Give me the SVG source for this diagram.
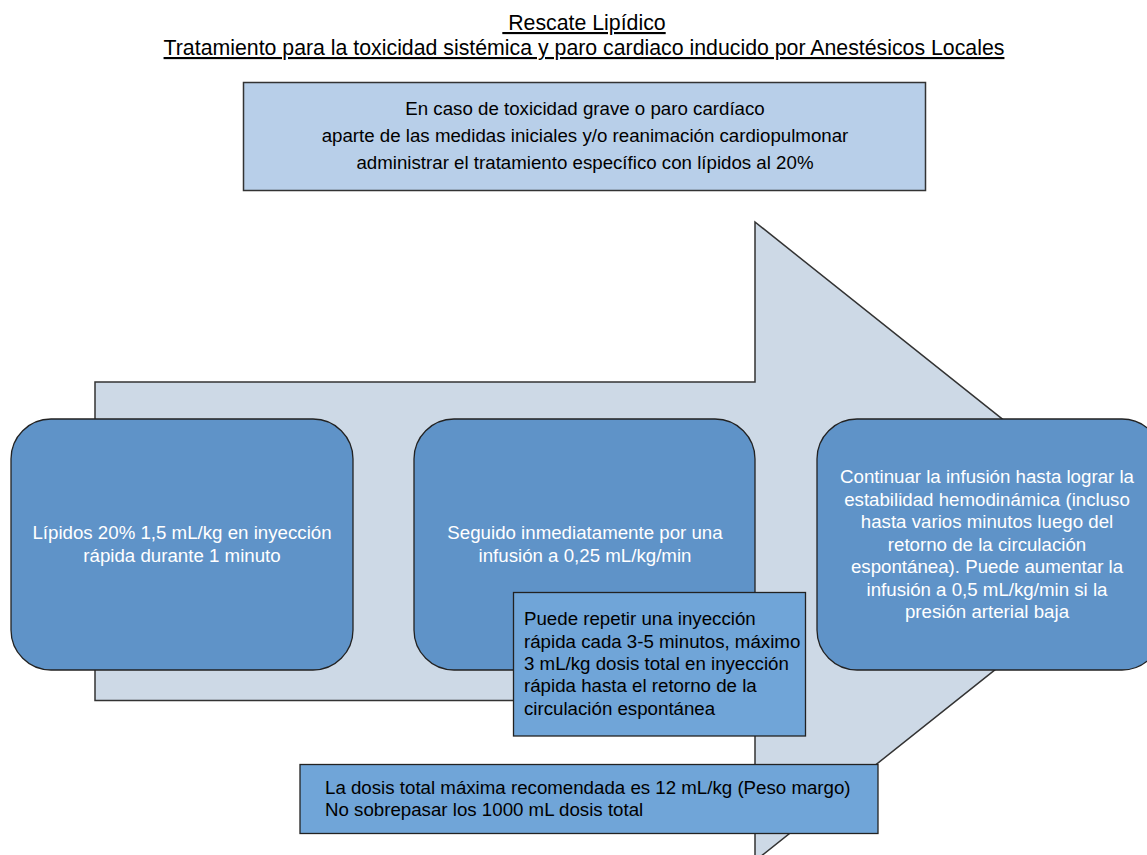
<svg xmlns="http://www.w3.org/2000/svg" width="1147" height="855" viewBox="0 0 1147 855">
<style>
text{font-family:"Liberation Sans",Arial,sans-serif;font-size:18.7px}
.title{font-size:21.3px;fill:#000;text-anchor:middle;text-decoration:underline}
.c{text-anchor:middle}
.w{fill:#fff}
.k{fill:#000}
.rbox{fill:#5f93c8;stroke:#222;stroke-width:1.3}
.note{fill:#70a5d8;stroke:#222;stroke-width:1.3}
</style>
<rect width="1147" height="855" fill="#fff"/>
<g id="title">
<text class="title" x="584" y="30" xml:space="preserve"> Rescate Lipídico</text>
<text class="title" x="584" y="55">Tratamiento para la toxicidad sistémica y paro cardiaco inducido por Anestésicos Locales</text>
</g>
<g id="intro">
<rect x="243.5" y="82.5" width="682" height="108" fill="#b8cfe9" stroke="#333" stroke-width="1.5"/>
<text class="c k" x="585" y="115">En caso de toxicidad grave o paro cardíaco</text>
<text class="c k" x="585" y="142">aparte de las medidas iniciales y/o reanimación cardiopulmonar</text>
<text class="c k" x="585" y="169">administrar el tratamiento específico con lípidos al 20%</text>
</g>
<g id="arrow">
<path d="M95,382 L755,382 L755,222 L1156,541.5 L755,861 L755,700.5 L95,700.5 Z" fill="#cdd9e6" stroke="#333" stroke-width="1.5"/>
</g>
<g id="step1">
<rect class="rbox" x="11" y="419" width="342" height="251" rx="40" ry="40"/>
<text class="c w" x="182" y="539">Lípidos 20% 1,5 mL/kg en inyección</text>
<text class="c w" x="182" y="561.5">rápida durante 1 minuto</text>
</g>
<g id="step2">
<rect class="rbox" x="414" y="419" width="341" height="251" rx="40" ry="40"/>
<text class="c w" x="585" y="539">Seguido inmediatamente por una</text>
<text class="c w" x="585" y="561.5">infusión a 0,25 mL/kg/min</text>
</g>
<g id="step3">
<rect class="rbox" x="817" y="419" width="345" height="251" rx="40" ry="40"/>
<text class="c w" x="987" y="483">Continuar la infusión hasta lograr la</text>
<text class="c w" x="987" y="505.5">estabilidad hemodinámica (incluso</text>
<text class="c w" x="987" y="528">hasta varios minutos luego del</text>
<text class="c w" x="987" y="550.5">retorno de la circulación</text>
<text class="c w" x="987" y="573">espontánea). Puede aumentar la</text>
<text class="c w" x="987" y="595.5">infusión a 0,5 mL/kg/min si la</text>
<text class="c w" x="987" y="618">presión arterial baja</text>
</g>
<g id="repeat-note">
<rect class="note" x="513.5" y="592.5" width="292" height="143.5"/>
<text class="k" x="524" y="625">Puede repetir una inyección</text>
<text class="k" x="524" y="647.5">rápida cada 3-5 minutos, máximo</text>
<text class="k" x="524" y="670">3 mL/kg dosis total en inyección</text>
<text class="k" x="524" y="692">rápida hasta el retorno de la</text>
<text class="k" x="524" y="714.5">circulación espontánea</text>
</g>
<g id="max-dose">
<rect class="note" x="300" y="764.5" width="578" height="69"/>
<text class="k" x="325" y="793.5">La dosis total máxima recomendada es 12 mL/kg (Peso margo)</text>
<text class="k" x="325" y="816">No sobrepasar los 1000 mL dosis total</text>
</g>
<g id="connectors"></g>
</svg>
